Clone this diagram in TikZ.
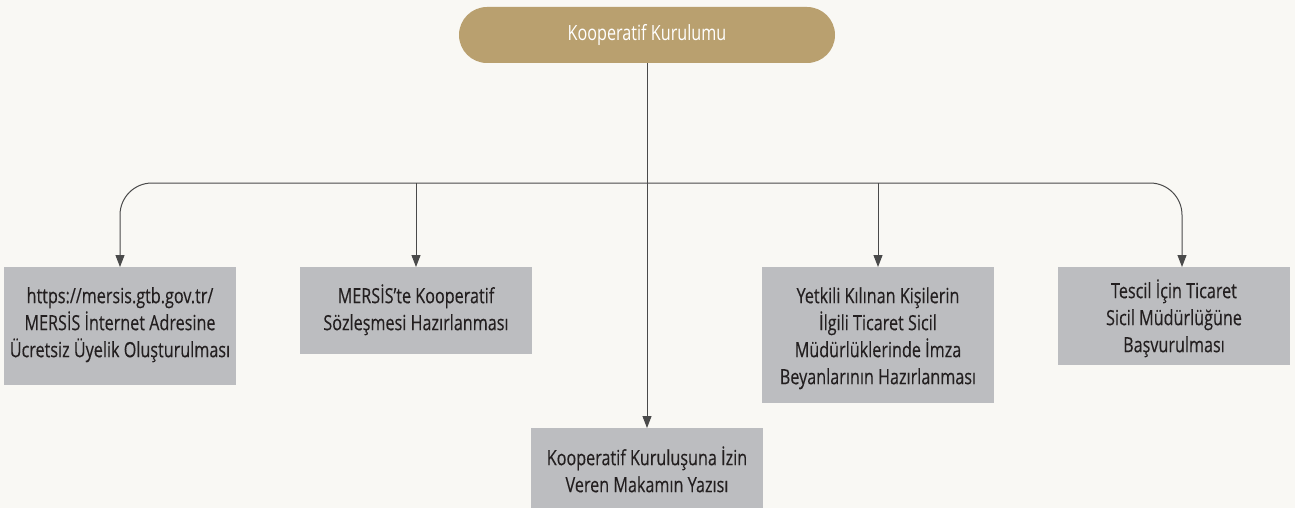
\documentclass[tikz,border=0pt]{standalone}
\usepackage{fontspec}
\setmainfont[FakeStretch=0.77,FakeBold=0.25]{Open Sans}
\newfontfamily\titlefont[FakeStretch=0.77]{Open Sans}
\usetikzlibrary{arrows.meta}
\definecolor{bg}{HTML}{F9F8F4}
\definecolor{pill}{HTML}{B9A06F}
\definecolor{boxfill}{HTML}{BCBDC0}
\definecolor{ink}{HTML}{231F20}
\definecolor{linegray}{HTML}{4A4A4A}
\newcommand\bxt[3]{\parbox[c][#1][t]{232pt}{\centering\rule{0pt}{#2}#3}}
\tikzset{
  stepbox/.style={fill=boxfill, draw=none, inner sep=0pt, anchor=north, text=ink,
    font=\fontsize{21pt}{27pt}\selectfont},
  pillbox/.style={fill=pill, draw=none, minimum width=376pt, minimum height=56pt,
    rounded corners=28pt, text=white, font=\titlefont\fontsize{21pt}{24pt}\selectfont, inner sep=0pt},
  conn/.style={draw=linegray, line width=1pt, -{Triangle[length=12pt,width=9pt]}},
}
\begin{document}
\begin{tikzpicture}[x=1pt,y=-1pt]
\fill[bg] (0,0) rectangle (1295,508);
\useasboundingbox (0,0) rectangle (1295,508);
\node[pillbox] (top) at (647,35) {Kooperatif Kurulumu};
\node[stepbox] (b1) at (120,267) {\bxt{118pt}{36pt}{https://mersis.gtb.gov.tr/\\MERSİS İnternet Adresine\\Ücretsiz Üyelik Oluşturulması}};
\node[stepbox] (b2) at (416,267) {\bxt{87pt}{36pt}{MERSİS’te Kooperatif\\Sözleşmesi Hazırlanması}};
\node[stepbox] (b3) at (647,428) {\bxt{82pt}{37pt}{Kooperatif Kuruluşuna İzin\\Veren Makamın Yazısı}};
\node[stepbox] (b4) at (878,267) {\bxt{136pt}{36pt}{Yetkili Kılınan Kişilerin\\İlgili Ticaret Sicil\\Müdürlüklerinde İmza\\Beyanlarının Hazırlanması}};
\node[stepbox] (b5) at (1174,267) {\bxt{98pt}{31pt}{Tescil İçin Ticaret\\Sicil Müdürlüğüne\\Başvurulması}};
\coordinate (j) at (647,183);
\draw[conn] (top.south) -- (b3.north);
\draw[conn, rounded corners=32pt] (j) -| (b1.north);
\draw[conn, rounded corners=32pt] (j) -| ([xshift=8pt]b5.north);
\draw[conn] (b2.north |- j) -- (b2.north);
\draw[conn] (b4.north |- j) -- (b4.north);
\end{tikzpicture}
\end{document}
